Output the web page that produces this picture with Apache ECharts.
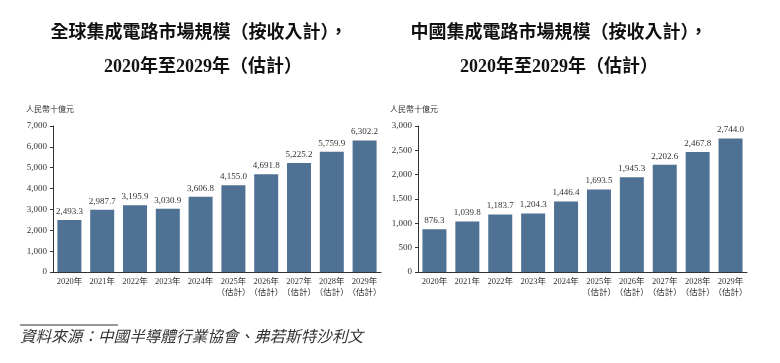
<!DOCTYPE html>
<html><head><meta charset="utf-8">
<script src="https://cdn.jsdelivr.net/npm/echarts@6/dist/echarts.min.js"></script>
<style>html,body{margin:0;padding:0;background:#fff}#c{width:780px;height:363px}</style>
</head><body><div id="c"></div>
<script>
const categories = ['2020年','2021年','2022年','2023年','2024年','2025年\n（估計）','2026年\n（估計）','2027年\n（估計）','2028年\n（估計）','2029年\n（估計）'];
const globalValues = [2493.3, 2987.7, 3195.9, 3030.9, 3606.8, 4155.0, 4691.8, 5225.2, 5759.9, 6302.2];
const chinaValues = [876.3, 1039.8, 1183.7, 1204.3, 1446.4, 1693.5, 1945.3, 2202.6, 2467.8, 2744.0];
const leftTicks = {min: 0, max: 7000, interval: 1000};
const rightTicks = {min: 0, max: 3000, interval: 500};
const titleLeft = ['全球集成電路市場規模（按收入計），', '2020年至2029年（估計）'];
const titleRight = ['中國集成電路市場規模（按收入計），', '2020年至2029年（估計）'];
const unitLabel = '人民幣十億元';
const sourceText = '資料來源：中國半導體行業協會、弗若斯特沙利文';

const FONT = '"Liberation Serif", "Noto Sans CJK TC", serif';
const BAR = '#4f7193';
const fmt = v => v.toLocaleString('en-US', {minimumFractionDigits: 1, maximumFractionDigits: 1});
const fmtTick = v => v.toLocaleString('en-US');

function xAx(i){return {type:'category', gridIndex:i, data:categories,
  axisLine:{lineStyle:{color:'#333', width:1}}, axisTick:{show:false},
  axisLabel:{color:'#333', fontFamily:FONT, fontSize:8.5, interval:0, margin:4, lineHeight:11}};}
function yAx(i,t){return {type:'value', gridIndex:i, min:t.min, max:t.max, interval:t.interval,
  axisLine:{show:true, lineStyle:{color:'#333', width:1}}, axisTick:{show:true, length:3, lineStyle:{color:'#333'}},
  splitLine:{show:false}, axisLabel:{color:'#333', fontFamily:FONT, fontSize:9, margin:6, formatter:fmtTick}};}
function ser(i,d){return {type:'bar', xAxisIndex:i, yAxisIndex:i, data:d, barWidth:24,
  itemStyle:{color:BAR}, label:{show:true, position:'top', distance:4, color:'#333', fontFamily:FONT, fontSize:9, formatter:p=>fmt(p.value)}};}

const chart = echarts.init(document.getElementById('c'), null, {renderer:'canvas'});
chart.setOption({
  animation:false,
  grid:[{left:53, width:328, top:126, bottom:91}, {left:418, width:329, top:126, bottom:91}],
  xAxis:[xAx(0), xAx(1)],
  yAxis:[yAx(0,leftTicks), yAx(1,rightTicks)],
  series:[ser(0,globalValues), ser(1,chinaValues)],
  graphic:[
    {type:'text', style:{x:199, y:33, text:titleLeft[0], textAlign:'center', textVerticalAlign:'middle', font:'bold 18px '+FONT, fill:'#111'}},
    {type:'text', style:{x:203, y:67, text:titleLeft[1], textAlign:'center', textVerticalAlign:'middle', font:'bold 18px '+FONT, fill:'#111'}},
    {type:'text', style:{x:559, y:33, text:titleRight[0], textAlign:'center', textVerticalAlign:'middle', font:'bold 18px '+FONT, fill:'#111'}},
    {type:'text', style:{x:559, y:67, text:titleRight[1], textAlign:'center', textVerticalAlign:'middle', font:'bold 18px '+FONT, fill:'#111'}},
    {type:'text', style:{x:26, y:110, text:unitLabel, textVerticalAlign:'middle', font:'8px '+FONT, fill:'#333'}},
    {type:'text', style:{x:390, y:110, text:unitLabel, textVerticalAlign:'middle', font:'8px '+FONT, fill:'#333'}},
    {type:'line', shape:{x1:20, y1:325, x2:118, y2:325}, style:{stroke:'#333', lineWidth:1}},
    {type:'text', style:{x:20, y:338, text:sourceText, textVerticalAlign:'middle', font:'italic 15.6px '+FONT, fill:'#333'}}
  ]
});
</script></body></html>
